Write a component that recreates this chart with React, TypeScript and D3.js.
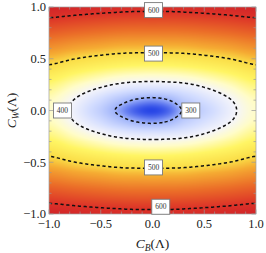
import React, { useMemo } from "react";
import * as d3 from "d3";

// grid of the field (rows top -> bottom)
const xKnots = [-1, -0.75, -0.5, -0.3, -0.15, 0, 0.15, 0.3, 0.5, 0.75, 1];
const yKnots = [1, 0.8, 0.6, 0.45, 0.3, 0.2, 0.1, 0, -0.1, -0.2, -0.3, -0.45, -0.6, -0.8, -1];
const gridValues = [
  [616, 612, 609, 607, 606, 606, 606, 607, 609, 612, 616],
  [580, 574, 569, 566, 565, 565, 565, 566, 569, 574, 580],
  [537, 527, 520, 515, 514, 513, 514, 515, 520, 527, 537],
  [502, 487, 475, 468, 465, 464, 465, 468, 475, 487, 502],
  [465, 444, 426, 415, 411, 409, 411, 415, 426, 444, 465],
  [444, 418, 393, 375, 365, 362, 365, 375, 393, 418, 444],
  [429, 398, 360, 320, 293, 282, 298, 336, 366, 398, 429],
  [424, 390, 340, 284, 249, 237, 255, 306, 348, 390, 424],
  [429, 398, 360, 320, 293, 282, 298, 336, 366, 398, 429],
  [444, 418, 393, 375, 365, 362, 365, 375, 393, 418, 444],
  [465, 444, 426, 415, 411, 409, 411, 415, 426, 444, 465],
  [502, 487, 475, 468, 465, 464, 465, 468, 475, 487, 502],
  [537, 527, 520, 515, 514, 513, 514, 515, 520, 527, 537],
  [580, 574, 569, 566, 565, 565, 565, 566, 569, 574, 580],
  [616, 612, 609, 607, 606, 606, 606, 607, 609, 612, 616],
];

const contourLevels = [300, 400, 500, 600];
const contourLabels = [
  { v: 600, x: 0.01, y: 0.97 },
  { v: 500, x: 0.01, y: 0.55 },
  { v: 400, x: -0.87, y: 0 },
  { v: 300, x: 0.37, y: 0 },
  { v: 500, x: 0.01, y: -0.55 },
  { v: 600, x: 0.08, y: -0.93 },
];

const colorValues = [237, 300, 362, 400, 425, 460, 500, 523, 560, 600, 620];
const colorStops = [
  "#2846e6", "#a0b4fa", "#d2dcff", "#f5f5fa", "#fffcc8", "#fff564",
  "#fadc46", "#f5aa32", "#eb6e28", "#dc3228", "#d02228",
];

const majorTicks = [-1, -0.5, 0, 0.5, 1];
const minorTicks = d3.range(-10, 11).map((d) => d / 10);

const ML = 49, MT = 7, W = 207, H = 207, PAD = 3;
const serif = "'Liberation Serif', 'DejaVu Serif', serif";

const clampI = (v: number, lo: number, hi: number) => Math.max(lo, Math.min(hi, v));
const cubic = (p0: number, p1: number, p2: number, p3: number, t: number) =>
  p1 + 0.5 * t * (p2 - p0 + t * (2 * p0 - 5 * p1 + 4 * p2 - p3 + t * (3 * (p1 - p2) + p3 - p0)));

const xIndex = d3.scaleLinear().domain(xKnots).range(d3.range(xKnots.length));
const yIndex = d3.scaleLinear().domain(yKnots).range(d3.range(yKnots.length));

function sample(xv: number, yv: number) {
  const nx = xKnots.length, ny = yKnots.length;
  const u = clampI(xIndex(xv), 0, nx - 1);
  const v = clampI(yIndex(yv), 0, ny - 1);
  const i = Math.min(nx - 2, Math.floor(u)), j = Math.min(ny - 2, Math.floor(v));
  const tu = u - i, tv = v - j;
  const row = (jj: number) => {
    const r = gridValues[clampI(jj, 0, ny - 1)];
    return cubic(r[clampI(i - 1, 0, nx - 1)], r[i], r[i + 1], r[clampI(i + 2, 0, nx - 1)], tu);
  };
  return cubic(row(j - 1), row(j), row(j + 1), row(j + 2), tv);
}

export default function App() {
  const x = d3.scaleLinear().domain([-1, 1]).range([0, W]);
  const y = d3.scaleLinear().domain([-1, 1]).range([H, 0]);
  const color = d3.scaleLinear<string>().domain(colorValues).range(colorStops)
    .interpolate(d3.interpolateRgb).clamp(true);

  const { href, paths } = useMemo(() => {
    const nx = W + 2 * PAD, ny = H + 2 * PAD;
    const values = new Array(nx * ny);
    for (let r = 0; r < ny; r++) {
      for (let c = 0; c < nx; c++) {
        values[r * nx + c] = sample(x.invert(c - PAD + 0.5), y.invert(r - PAD + 0.5));
      }
    }
    const canvas = document.createElement("canvas");
    canvas.width = W;
    canvas.height = H;
    const ctx = canvas.getContext("2d")!;
    const img = ctx.createImageData(W, H);
    for (let r = 0; r < H; r++) {
      for (let c = 0; c < W; c++) {
        const col = d3.rgb(color(values[(r + PAD) * nx + c + PAD]));
        const k = (r * W + c) * 4;
        img.data[k] = col.r;
        img.data[k + 1] = col.g;
        img.data[k + 2] = col.b;
        img.data[k + 3] = 255;
      }
    }
    ctx.putImageData(img, 0, 0);
    const cs = d3.contours().size([nx, ny]).thresholds(contourLevels)(values);
    const path = d3.geoPath(d3.geoIdentity().translate([-PAD, -PAD]) as any);
    return { href: canvas.toDataURL(), paths: cs.map((c) => path(c as any) || "") };
  }, []);

  const fmt = d3.format(".1f");

  return (
    <div style={{ position: "absolute", left: 0, top: 0 }}>
      <svg width={266} height={253} style={{ display: "block" }}>
        <defs>
          <clipPath id="plotClip">
            <rect x={0} y={0} width={W} height={H} />
          </clipPath>
        </defs>
        <g transform={`translate(${ML},${MT})`}>
          <image href={href} x={0} y={0} width={W} height={H} />
          <g clipPath="url(#plotClip)">
            {paths.map((d, i) => (
              <path key={i} d={d} fill="none" stroke="#111" strokeWidth={1.5} strokeDasharray="3.2,2.6" />
            ))}
          </g>
          {/* frame ticks */}
          {minorTicks.map((t) => {
            const len = majorTicks.some((m) => Math.abs(m - t) < 1e-9) ? 4.5 : 2.5;
            return (
              <g key={t} stroke="#9a9a9a" strokeWidth={0.7}>
                <line x1={0} x2={len} y1={y(t)} y2={y(t)} />
                <line x1={W} x2={W - len} y1={y(t)} y2={y(t)} />
                <line x1={x(t)} x2={x(t)} y1={H} y2={H - len} />
                <line x1={x(t)} x2={x(t)} y1={0} y2={len} />
              </g>
            );
          })}
          <rect x={0} y={0} width={W} height={H} fill="none" stroke="#a0a0a0" strokeWidth={0.7} />
          {contourLabels.map((l, i) => (
            <g key={i} transform={`translate(${x(l.x)},${y(l.y)})`}>
              <rect x={-9} y={-7.5} width={18} height={15} fill="#fff" stroke="#7a7a7a" strokeWidth={0.9} />
              <text textAnchor="middle" dy="0.35em" fontFamily={serif} fontSize={7.5} fill="#333">
                {l.v}
              </text>
            </g>
          ))}
          {majorTicks.map((t) => (
            <text key={"y" + t} x={-3} y={y(t)} dy="0.35em" textAnchor="end" fontFamily={serif} fontSize={12.5} fill="#222">
              {fmt(t)}
            </text>
          ))}
          {majorTicks.map((t) => (
            <text key={"x" + t} x={x(t)} y={H + 14} textAnchor="middle" fontFamily={serif} fontSize={12.5} fill="#222">
              {fmt(t)}
            </text>
          ))}
        </g>
        <text x={ML + W / 2} y={248} textAnchor="middle" fontFamily={serif} fontSize={13.5} fill="#222">
          <tspan fontStyle="italic">C</tspan>
          <tspan fontStyle="italic" fontSize={9.5} dy={2.5}>B</tspan>
          <tspan dy={-2.5}>(Λ)</tspan>
        </text>
        <text transform={`translate(16,${MT + H / 2}) rotate(-90)`} textAnchor="middle" fontFamily={serif} fontSize={13.5} fill="#222">
          <tspan fontStyle="italic">C</tspan>
          <tspan fontStyle="italic" fontSize={9.5} dy={2.5}>W</tspan>
          <tspan dy={-2.5}>(Λ)</tspan>
        </text>
      </svg>
    </div>
  );
}
